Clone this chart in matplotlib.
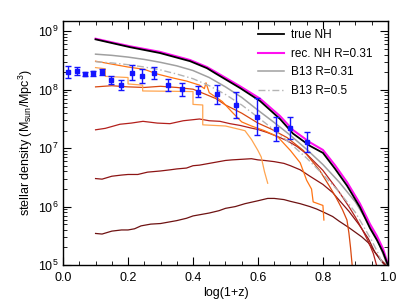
import numpy as np
import matplotlib
matplotlib.use("Agg")
import matplotlib.pyplot as plt
from matplotlib.ticker import LogLocator, MultipleLocator, NullFormatter, FixedLocator

plt.rcParams['font.family'] = ['Liberation Sans', 'DejaVu Sans']
plt.rcParams['mathtext.fontset'] = 'custom'
plt.rcParams['mathtext.rm'] = 'Liberation Sans'
plt.rcParams['mathtext.it'] = 'Liberation Sans'

# ---- observational points (log10 density, dex errors)
obs_x = [0.016, 0.042, 0.068, 0.093, 0.121, 0.148, 0.177, 0.211, 0.244, 0.281,
         0.322, 0.366, 0.416, 0.473, 0.532, 0.596, 0.655, 0.700, 0.750]
obs_logy = [8.30, 8.32, 8.27, 8.28, 8.31, 8.17, 8.08, 8.29, 8.23, 8.285,
            8.08, 8.01, 7.97, 7.92, 7.74, 7.54, 7.33, 7.34, 7.11]
obs_err = [0.10, 0.07, 0.04, 0.05, 0.05, 0.07, 0.08, 0.13, 0.12, 0.10,
           0.10, 0.11, 0.09, 0.16, 0.22, 0.32, 0.20, 0.19, 0.17]

# ---- true NH
true_x = [0.10, 0.206, 0.298, 0.391, 0.443, 0.468, 0.545, 0.606, 0.668, 0.708,
          0.76, 0.80, 0.837, 0.874, 0.914, 0.945, 0.966, 0.985, 1.0]
true_logy = [8.864, 8.73, 8.63, 8.49, 8.37, 8.285, 8.03, 7.81, 7.50, 7.25,
             7.04, 6.92, 6.65, 6.36, 5.99, 5.63, 5.43, 5.22, 5.0]
# ---- rec. NH
rec_x = [0.10, 0.206, 0.298, 0.391, 0.443, 0.468, 0.545, 0.606, 0.668, 0.708,
         0.76, 0.80, 0.837, 0.874, 0.914, 0.945, 0.966, 0.985, 1.0]
rec_logy = [8.875, 8.745, 8.65, 8.51, 8.39, 8.31, 8.06, 7.85, 7.55, 7.31,
            7.10, 6.97, 6.71, 6.42, 6.05, 5.70, 5.50, 5.28, 5.02]
# ---- B13 R=0.31
b31_x = [0.10, 0.15, 0.20, 0.25, 0.30, 0.35, 0.40, 0.45, 0.50, 0.55, 0.60, 0.65,
         0.70, 0.75, 0.80, 0.85, 0.90, 0.95, 0.97, 0.99, 1.0]
b31_logy = [8.61, 8.59, 8.56, 8.52, 8.47, 8.41, 8.33, 8.21, 8.05, 7.87, 7.65, 7.44,
            7.22, 6.98, 6.72, 6.42, 6.08, 5.62, 5.40, 5.12, 4.95]
# ---- B13 R=0.5
b50_x = [0.10, 0.15, 0.20, 0.25, 0.30, 0.35, 0.40, 0.45, 0.50, 0.55, 0.60, 0.65,
         0.70, 0.75, 0.80, 0.85, 0.90, 0.95, 0.97, 0.985]
b50_logy = [8.48, 8.46, 8.43, 8.39, 8.34, 8.27, 8.19, 8.07, 7.92, 7.74, 7.53, 7.31,
            7.08, 6.83, 6.55, 6.25, 5.90, 5.42, 5.20, 5.0]

# ---- simulation tracks
simA_x = [0.10, 0.12, 0.15, 0.18, 0.20, 0.22, 0.24, 0.27, 0.30, 0.33, 0.35, 0.38, 0.40,
          0.43, 0.45, 0.48, 0.50, 0.53, 0.56, 0.60, 0.63, 0.65, 0.68, 0.70, 0.73, 0.76,
          0.78, 0.80, 0.83, 0.85, 0.88, 0.90, 0.92, 0.94, 0.96, 0.975, 0.99]
simA_logy = [5.54, 5.53, 5.58, 5.60, 5.60, 5.62, 5.67, 5.70, 5.71, 5.74, 5.76, 5.80, 5.84,
             5.87, 5.89, 5.93, 5.97, 6.00, 6.05, 6.10, 6.14, 6.14, 6.12, 6.09, 6.05, 6.00,
             5.96, 5.91, 5.83, 5.75, 5.64, 5.56, 5.48, 5.38, 5.22, 5.10, 5.00]
simB_x = [0.10, 0.12, 0.15, 0.18, 0.20, 0.23, 0.26, 0.30, 0.33, 0.35, 0.38, 0.40, 0.42,
          0.45, 0.47, 0.50, 0.52, 0.55, 0.58, 0.60, 0.62, 0.65, 0.68, 0.70, 0.73, 0.76,
          0.80, 0.83, 0.85, 0.88, 0.91, 0.94, 0.96, 0.98, 0.995]
simB_logy = [6.48, 6.47, 6.52, 6.54, 6.55, 6.55, 6.59, 6.61, 6.63, 6.645, 6.66, 6.70, 6.71,
             6.74, 6.76, 6.79, 6.80, 6.81, 6.82, 6.80, 6.79, 6.77, 6.74, 6.70, 6.63, 6.52,
             6.38, 6.24, 6.11, 5.92, 5.70, 5.45, 5.22, 5.08, 5.00]
simC_x = [0.10, 0.13, 0.175, 0.21, 0.246, 0.29, 0.329, 0.37, 0.42, 0.45, 0.483, 0.514,
          0.545, 0.575, 0.60, 0.628, 0.66, 0.689, 0.72, 0.75, 0.80, 0.85, 0.88, 0.90,
          0.92, 0.94, 0.955, 0.965]
simC_logy = [7.315, 7.34, 7.41, 7.43, 7.46, 7.43, 7.42, 7.47, 7.50, 7.47, 7.46, 7.42,
             7.39, 7.35, 7.32, 7.27, 7.20, 7.13, 7.03, 6.90, 6.62, 6.25, 6.00, 5.82,
             5.62, 5.40, 5.20, 5.00]
simD_x = [0.10, 0.15, 0.20, 0.25, 0.30, 0.35, 0.40, 0.44, 0.47, 0.50, 0.55, 0.60, 0.64,
          0.69, 0.74, 0.79, 0.82, 0.84, 0.86, 0.874, 0.88, 0.885, 0.89]
simD_logy = [8.05, 8.07, 8.05, 8.04, 8.06, 8.04, 8.01, 7.92, 7.85, 7.74, 7.60, 7.43, 7.33,
             7.18, 6.96, 6.62, 6.35, 6.16, 5.95, 5.77, 5.55, 5.30, 5.00]
simE_x = [0.10, 0.15, 0.20, 0.25, 0.29, 0.34, 0.38, 0.42, 0.435, 0.44, 0.45, 0.49, 0.52,
          0.55, 0.58, 0.62, 0.66, 0.70, 0.73, 0.75, 0.765, 0.77, 0.80, 0.803]
simE_logy = [8.49, 8.44, 8.39, 8.35, 8.27, 8.20, 8.15, 8.08, 8.02, 8.12, 7.95, 7.80, 7.62,
             7.45, 7.38, 7.30, 7.20, 6.96, 6.75, 6.45, 6.30, 6.08, 6.02, 5.77]
simF_x = [0.10, 0.13, 0.13, 0.20, 0.20, 0.245, 0.245, 0.40, 0.40, 0.43, 0.43, 0.50, 0.56,
          0.58, 0.60, 0.61, 0.62, 0.63]
simF_logy = [8.38, 8.36, 8.23, 8.21, 8.10, 8.08, 7.98, 7.97, 7.75, 7.74, 7.40, 7.38, 7.30,
             7.15, 6.96, 6.85, 6.60, 6.40]

xticks = [0.0, 0.2, 0.4, 0.6, 0.8, 1.0]
xticklabels = ['0.0', '0.2', '0.4', '0.6', '0.8', '1.0']
yticks = [1e5, 1e6, 1e7, 1e8, 1e9]
yticklabels = ['10$^5$', '10$^6$', '10$^7$', '10$^8$', '10$^9$']

fig = plt.figure(figsize=(4.07, 3.06), dpi=100)
ax = fig.add_axes([0.155, 0.134, 0.798, 0.797])

def p(x, ly):
    return np.asarray(x), 10 ** np.asarray(ly)

lw = 0.9
for xs, ys, c in [(simA_x, simA_logy, '#6e1212'), (simB_x, simB_logy, '#8c1414'),
                  (simC_x, simC_logy, '#b3201c'), (simD_x, simD_logy, '#d9480f'),
                  (simE_x, simE_logy, '#ff7414'), (simF_x, simF_logy, '#ffa550')]:
    ax.plot(*p(xs, ys), color=c, lw=lw)

ax.plot(*p(b50_x, b50_logy), color='#b4b4b4', lw=1.0, ls=(0, (5, 2, 1, 2)), label='B13 R=0.5')
ax.plot(*p(b31_x, b31_logy), color='#a0a0a0', lw=1.1, label='B13 R=0.31')
ax.plot(*p(rec_x, rec_logy), color='#ff10f0', lw=1.5, label='rec. NH R=0.31')
ax.plot(*p(true_x, true_logy), color='black', lw=1.3, label='true NH')

oy = 10 ** np.asarray(obs_logy)
lo = oy - 10 ** (np.asarray(obs_logy) - np.asarray(obs_err))
hi = 10 ** (np.asarray(obs_logy) + np.asarray(obs_err)) - oy
ax.errorbar(obs_x, oy, yerr=[lo, hi], fmt='s', color='#1414ff', ms=3.5,
            capsize=2, elinewidth=1, capthick=1, zorder=5)

ax.set_yscale('log')
ax.set_xlim(0, 1)
ax.set_ylim(1e5, 1.5e9)
ax.set_xticks(xticks)
ax.set_xticklabels(xticklabels)
ax.xaxis.set_minor_locator(MultipleLocator(0.05))
ax.set_yticks(yticks)
ax.set_yticklabels(yticklabels)
ax.yaxis.set_minor_locator(LogLocator(base=10, subs=np.arange(2, 10)))
ax.yaxis.set_minor_formatter(NullFormatter())
ax.tick_params(which='both', direction='in', top=True, right=True, labelsize=9, color='black')
ax.tick_params(which='major', length=6, width=0.8)
ax.tick_params(which='minor', length=3, width=0.6)
ax.tick_params(axis='x', pad=5)
for s in ax.spines.values():
    s.set_linewidth(1.0)

ax.set_xlabel('log(1+z)', fontsize=9, labelpad=2)
ax.set_ylabel('stellar density (M$_{sun}$/Mpc$^3$)', fontsize=9, labelpad=2)

h, l = ax.get_legend_handles_labels()
order = [3, 2, 1, 0]
ax.legend([h[i] for i in order], [l[i] for i in order], loc='upper left',
          bbox_to_anchor=(0.585, 0.985), frameon=False, fontsize=8.5,
          handlelength=2.2, handletextpad=0.6, labelspacing=0.55, borderaxespad=0)

fig.savefig('out.png', dpi=100)
